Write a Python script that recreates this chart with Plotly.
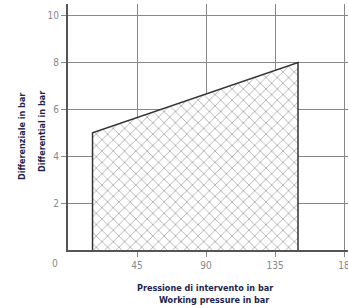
import plotly.graph_objects as go

# Data
pressure = [16, 16, 150, 150]          # working pressure (bar)
differential = [0, 5, 8, 0]            # differential (bar)
x_ticks = [45, 90, 135, 180]
x_tick_labels = ["45", "90", "135", "18"]
y_ticks = [2, 4, 6, 8, 10]
y_tick_labels = ["2", "4", "6", "8", "10"]

fig = go.Figure()

fig.add_trace(go.Scatter(
    x=pressure, y=differential, mode="lines", fill="toself",
    line=dict(color="#333333", width=1.5),
    fillcolor="white",
    fillpattern=dict(shape="x", size=8, solidity=0.22, fgcolor="#666666", bgcolor="white"),
    hoverinfo="skip", showlegend=False,
))

tick_font = dict(family="Liberation Sans Narrow, DejaVu Sans Condensed, sans-serif", size=10, color="#888888")
title_font = dict(family="Liberation Sans Narrow, DejaVu Sans Condensed, sans-serif", size=9, color="#1c2550")

fig.update_layout(
    width=348, height=305,
    margin=dict(l=68, r=0, t=4, b=55),
    paper_bgcolor="white", plot_bgcolor="white",
    xaxis=dict(range=[0, 182.6], tickvals=x_ticks, ticktext=x_tick_labels,
               showgrid=True, gridcolor="#888888", gridwidth=1, automargin=False,
               zeroline=False, showline=True, linecolor="#555555", linewidth=2,
               ticks="outside", ticklen=5, ticklabeloverflow="allow",
               tickcolor="#888888", tickfont=tick_font, fixedrange=True),
    yaxis=dict(range=[0, 10.5], tickvals=y_ticks, ticktext=y_tick_labels,
               showgrid=True, gridcolor="#888888", gridwidth=1, automargin=False,
               zeroline=False, showline=True, linecolor="#555555", linewidth=2,
               ticks="outside", ticklen=5, tickcolor="#888888", tickfont=tick_font,
               fixedrange=True),
    annotations=[
        dict(x=0, y=0, xref="x", yref="y", text="0", showarrow=False,
             xshift=-13, yshift=-13, font=tick_font),
        dict(x=0.49, y=-0.155, xref="paper", yref="paper", showarrow=False,
             text="<b>Pressione di intervento in bar</b>", font=title_font, yanchor="middle"),
        dict(x=0.52, y=-0.203, xref="paper", yref="paper", showarrow=False,
             text="<b>Working pressure in bar</b>", font=title_font, yanchor="middle"),
        dict(x=0, y=0.459, xref="paper", yref="paper", xshift=-53, showarrow=False,
             text="<b>Differenziale in bar</b>", font=title_font, textangle=-90),
        dict(x=0, y=0.48, xref="paper", yref="paper", xshift=-33, showarrow=False,
             text="<b>Differential in bar</b>", font=title_font, textangle=-90),
    ],
)

fig.write_html("out.html", config={"displayModeBar": False},
               post_script="document.body.style.margin='0px';")
